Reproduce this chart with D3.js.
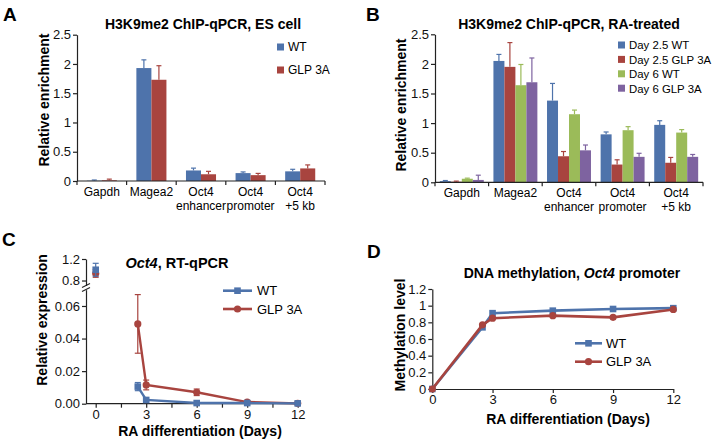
<!DOCTYPE html>
<html><head><meta charset="utf-8">
<script src="https://cdn.jsdelivr.net/npm/d3@7/dist/d3.min.js"></script>
<style>
html,body{margin:0;padding:0;background:#fff;}
svg{display:block;font-family:"Liberation Sans",Arial,Helvetica,sans-serif;}
</style></head>
<body>
<svg id="chart" width="714" height="439"></svg>
<script>
// ---------- DATA ----------
const categories = ["Gapdh", "Magea2", "Oct4\nenhancer", "Oct4\npromoter", "Oct4\n+5 kb"];
const barTicks = [0, 0.5, 1, 1.5, 2, 2.5];

// Panel A: ES cell
const esSeries = ["WT", "GLP 3A"];
const esWT = [0.005, 1.93, 0.18, 0.135, 0.165];
const esWTErr = [0.012, 0.14, 0.04, 0.02, 0.035];
const esGLP = [0.012, 1.73, 0.115, 0.10, 0.215];
const esGLPErr = [0.02, 0.24, 0.05, 0.03, 0.06];

// Panel B: RA-treated
const raSeries = ["Day 2.5 WT", "Day 2.5 GLP 3A", "Day 6 WT", "Day 6 GLP 3A"];
const d25WT = [0.02, 2.05, 1.38, 0.81, 0.97];
const d25WTErr = [0.01, 0.11, 0.29, 0.04, 0.07];
const d25GLP = [0.01, 1.95, 0.44, 0.30, 0.33];
const d25GLPErr = [0.01, 0.41, 0.08, 0.08, 0.09];
const d6WT = [0.06, 1.64, 1.15, 0.88, 0.84];
const d6WTErr = [0.01, 0.35, 0.07, 0.06, 0.05];
const d6GLP = [0.04, 1.69, 0.54, 0.43, 0.43];
const d6GLPErr = [0.08, 0.41, 0.09, 0.06, 0.04];

// Panel C: Oct4 RT-qPCR
const days = [0, 2.5, 3, 6, 9, 12];
const rtWT = [1.0, 0.0105, 0.0023, 0.0004, 0.0004, 0.0002];
const rtWTErr = [0.12, 0.0025, 0.0004, 0.0002, 0.0002, 0];
const rtGLP = [0.93, 0.049, 0.0115, 0.007, 0.001, 0.0002];
const rtGLPErr = [0.07, 0.018, 0.003, 0.002, 0.0006, 0];
const rtLowTicks = [0, 0.02, 0.04, 0.06];
const rtHighTicks = [0.8, 1.2];
const dayTicks = [0, 1.5, 3, 4.5, 6, 7.5, 9, 10.5, 12];
const dayLabels = [0, 3, 6, 9, 12];

// Panel D: DNA methylation
const methWT = [0, 0.74, 0.91, 0.94, 0.96, 0.97];
const methGLP = [0, 0.77, 0.85, 0.88, 0.86, 0.955];
const methTicks = [0, 0.2, 0.4, 0.6, 0.8, 1, 1.2];
const methTickLabels = ["0", "0.2", "0.4", "0.6", "0.8", "1", "1.2"];

// ---------- STYLE ----------
const BLUE = "#4e73ab", RED = "#a8443f", GREEN = "#9bbb59", PURPLE = "#7e63a0";
const AXIS = "#222";
const TICKFONT = "13px";
const svg = d3.select("#chart");
svg.append("rect").attr("width", 714).attr("height", 439).attr("fill", "#fff");

function styleAxis(g, fs) {
  g.selectAll("path.domain").attr("stroke", AXIS).attr("stroke-width", 1.2);
  g.selectAll(".tick line").attr("stroke", AXIS).attr("stroke-width", 1.2);
  g.selectAll(".tick text").attr("fill", "#111").style("font-size", fs || TICKFONT)
    .style("font-family", "'Liberation Sans',Arial,sans-serif");
}

function panelLetter(t, x, y) {
  svg.append("text").attr("x", x).attr("y", y).text(t)
    .style("font-size", "19px").style("font-weight", "bold");
}
function ylabel(t, x, y) {
  svg.append("text").attr("transform", `translate(${x},${y}) rotate(-90)`)
    .attr("text-anchor", "middle").text(t)
    .style("font-size", "14px").style("font-weight", "bold");
}

// ---------- BAR PANELS ----------
function barPanel(o) {
  const y = d3.scaleLinear().domain([0, 2.5]).range([o.y0, o.yTop]);
  const x = d3.scaleBand().domain(categories).range([o.x0, o.x1]);
  const inner = d3.scaleBand().domain(o.series.map((s, i) => i))
    .range([x.bandwidth() * o.pad, x.bandwidth() * (1 - o.pad)]);
  const ga = svg.append("g").attr("transform", `translate(${o.x0},0)`)
    .call(d3.axisLeft(y).tickValues(barTicks).tickFormat(d => String(d)).tickSize(4).tickSizeOuter(0).tickPadding(2));
  styleAxis(ga);
  // bars
  o.series.forEach((s, i) => {
    const g = svg.append("g");
    categories.forEach((c, j) => {
      const v = o.values[i][j], e = o.errs[i][j];
      const bx = x(c) + inner(i);
      g.append("rect").attr("x", bx).attr("y", y(v)).attr("width", inner.bandwidth())
        .attr("height", y(0) - y(v)).attr("fill", o.colors[i]);
      const cx = bx + inner.bandwidth() / 2;
      g.append("line").attr("x1", cx).attr("x2", cx).attr("y1", y(v)).attr("y2", y(v + e))
        .attr("stroke", o.colors[i]).attr("stroke-width", 1.2);
      g.append("line").attr("x1", cx - 2.5).attr("x2", cx + 2.5).attr("y1", y(v + e)).attr("y2", y(v + e))
        .attr("stroke", o.colors[i]).attr("stroke-width", 1.2);
    });
  });
  // x axis
  svg.append("line").attr("x1", o.x0).attr("x2", o.x1).attr("y1", y(0)).attr("y2", y(0))
    .attr("stroke", AXIS).attr("stroke-width", 1.2);
  const edges = categories.map(c => x(c)).concat([x.range()[1]]);
  edges.forEach(ex => svg.append("line").attr("x1", ex).attr("x2", ex)
    .attr("y1", y(0)).attr("y2", y(0) + 4).attr("stroke", AXIS).attr("stroke-width", 1.2));
  categories.forEach(c => {
    const t = svg.append("text").attr("text-anchor", "middle").style("font-size", "12px");
    c.split("\n").forEach((ln, k) => t.append("tspan").attr("x", x(c) + x.bandwidth() / 2)
      .attr("y", o.y0 + 15 + k * 14).text(ln));
  });
  // title
  svg.append("text").attr("x", o.titleX).attr("y", o.titleY).attr("text-anchor", "middle")
    .text(o.title).style("font-size", "14px").style("font-weight", "bold");
  // legend
  o.series.forEach((s, i) => {
    svg.append("rect").attr("x", o.legX).attr("y", o.legY + i * o.legDy - 3.5)
      .attr("width", 7).attr("height", 7).attr("fill", o.colors[i]);
    svg.append("text").attr("x", o.legX + 11).attr("y", o.legY + i * o.legDy + 4.3)
      .text(s).style("font-size", o.legFont);
  });
}

barPanel({
  x0: 77, x1: 325, y0: 181, yTop: 34.7, pad: 0.197,
  series: esSeries, values: [esWT, esGLP], errs: [esWTErr, esGLPErr], colors: [BLUE, RED],
  title: "H3K9me2 ChIP-qPCR, ES cell", titleX: 203, titleY: 29,
  legX: 277, legY: 47, legDy: 23, legFont: "12px"
});
barPanel({
  x0: 435, x1: 703, y0: 182.3, yTop: 34.3, pad: 0.09,
  series: raSeries, values: [d25WT, d25GLP, d6WT, d6GLP],
  errs: [d25WTErr, d25GLPErr, d6WTErr, d6GLPErr], colors: [BLUE, RED, GREEN, PURPLE],
  title: "H3K9me2 ChIP-qPCR, RA-treated", titleX: 569, titleY: 29,
  legX: 618, legY: 45, legDy: 14.4, legFont: "11.4px"
});
panelLetter("A", 3, 21);
panelLetter("B", 366, 21);
ylabel("Relative enrichment", 49, 100);
ylabel("Relative enrichment", 406, 105);

function drawMarker(type, cx, cy, color) {
  if (type === "square") {
    svg.append("rect").attr("x", cx - 3.3).attr("y", cy - 3.3).attr("width", 6.6).attr("height", 6.6).attr("fill", color);
  } else {
    svg.append("circle").attr("cx", cx).attr("cy", cy).attr("r", 3.6).attr("fill", color);
  }
}
function legendLine(xa, xb, yy, s, tx) {
  svg.append("line").attr("x1", xa).attr("x2", xb).attr("y1", yy).attr("y2", yy)
    .attr("stroke", s.color).attr("stroke-width", 2.6);
  drawMarker(s.marker, (xa + xb) / 2, yy, s.color);
  svg.append("text").attr("x", tx).attr("y", yy + 4.5).text(s.name).style("font-size", "13px");
}

// ---------- PANEL C ----------
(function () {
  const axX = 86;
  const x = d3.scaleLinear().domain([0, 12]).range([95.7, 297.7]);
  const yLow = d3.scaleLinear().domain([0, 0.07]).range([403.7, 289.7]);
  const yHigh = d3.scaleLinear().domain([0.7, 1.2]).range([285.9, 259]);
  const gl = svg.append("g").attr("transform", `translate(${axX},0)`)
    .call(d3.axisLeft(yLow).tickValues(rtLowTicks).tickFormat(d3.format(".2f")).tickSize(4).tickSizeOuter(0).tickPadding(2));
  styleAxis(gl);
  const gh = svg.append("g").attr("transform", `translate(${axX},0)`)
    .call(d3.axisLeft(yHigh).tickValues(rtHighTicks).tickFormat(d3.format(".1f")).tickSize(4).tickSizeOuter(0).tickPadding(2));
  styleAxis(gh);
  // break marks
  svg.append("rect").attr("x", axX - 2).attr("y", 286).attr("width", 4).attr("height", 3.5).attr("fill", "#fff");
  [285.5, 289.5].forEach(yy => svg.append("line").attr("x1", axX - 4).attr("x2", axX + 4)
    .attr("y1", yy + 2).attr("y2", yy - 2).attr("stroke", AXIS).attr("stroke-width", 1.1));
  // x axis
  const gx = svg.append("g").attr("transform", `translate(0,${yLow(0)})`)
    .call(d3.axisBottom(x).tickValues(dayTicks).tickFormat(d => dayLabels.includes(d) ? d : "").tickSize(4).tickSizeOuter(0).tickPadding(2));
  gx.select("path.domain").remove();
  styleAxis(gx);
  svg.append("line").attr("x1", axX).attr("x2", x(12)).attr("y1", yLow(0)).attr("y2", yLow(0))
    .attr("stroke", AXIS).attr("stroke-width", 1.2);

  const series = [
    { name: "WT", v: rtWT, e: rtWTErr, color: BLUE, marker: "square" },
    { name: "GLP 3A", v: rtGLP, e: rtGLPErr, color: RED, marker: "circle" }
  ];
  const yOf = (i, v) => i === 0 ? yHigh(v) : yLow(v);
  const line = d3.line().x(d => x(d[0])).y(d => yLow(d[1]));
  [series[1], series[0]].forEach(s => {
    const pts = days.map((d, i) => [d, s.v[i]]).slice(1);
    svg.append("path").datum(pts).attr("d", line).attr("fill", "none")
      .attr("stroke", s.color).attr("stroke-width", 2.4);
    days.forEach((d, i) => {
      const e = s.e[i];
      if (e > 0) {
        const cx = x(d), y1 = yOf(i, s.v[i] - e), y2 = yOf(i, s.v[i] + e);
        svg.append("line").attr("x1", cx).attr("x2", cx).attr("y1", y1).attr("y2", y2)
          .attr("stroke", s.color).attr("stroke-width", 1.2);
        [y1, y2].forEach(yy => svg.append("line").attr("x1", cx - 3).attr("x2", cx + 3)
          .attr("y1", yy).attr("y2", yy).attr("stroke", s.color).attr("stroke-width", 1.2));
      }
      drawMarker(s.marker, x(d), yOf(i, s.v[i]), s.color);
    });
  });
  const t = svg.append("text").attr("x", 177).attr("y", 268).attr("text-anchor", "middle")
    .style("font-size", "14.5px").style("font-weight", "bold");
  t.append("tspan").text("Oct4").style("font-style", "italic");
  t.append("tspan").text(", RT-qPCR");
  series.forEach((s, i) => legendLine(223, 252, [290.7, 309][i], s, 257));
  svg.append("text").attr("x", 200).attr("y", 436).attr("text-anchor", "middle")
    .text("RA differentiation (Days)").style("font-size", "14px").style("font-weight", "bold");
  ylabel("Relative expression", 47, 320);
  panelLetter("C", 2, 246);
})();

// ---------- PANEL D ----------
(function () {
  const x = d3.scaleLinear().domain([0, 12]).range([432.3, 673.3]);
  const y = d3.scaleLinear().domain([0, 1.2]).range([389, 289]);
  const gy = svg.append("g").attr("transform", `translate(${x(0)},0)`)
    .call(d3.axisLeft(y).tickValues(methTicks).tickFormat((d, i) => methTickLabels[i]).tickSize(4).tickSizeOuter(0).tickPadding(2));
  styleAxis(gy);
  const gx = svg.append("g").attr("transform", `translate(0,${y(0)})`)
    .call(d3.axisBottom(x).tickValues(dayLabels).tickSize(4).tickSizeOuter(0).tickPadding(2));
  styleAxis(gx);
  const series = [
    { name: "WT", v: methWT, color: BLUE, marker: "square" },
    { name: "GLP 3A", v: methGLP, color: RED, marker: "circle" }
  ];
  const line = d3.line().x(d => x(d[0])).y(d => y(d[1]));
  series.forEach(s => {
    const pts = days.map((d, i) => [d, s.v[i]]);
    svg.append("path").datum(pts).attr("d", line).attr("fill", "none")
      .attr("stroke", s.color).attr("stroke-width", 2.6);
    pts.forEach(p => drawMarker(s.marker, x(p[0]), y(p[1]), s.color));
  });
  const t = svg.append("text").attr("x", 572).attr("y", 278).attr("text-anchor", "middle")
    .style("font-size", "14px").style("font-weight", "bold");
  t.append("tspan").text("DNA methylation, ");
  t.append("tspan").text("Oct4").style("font-style", "italic");
  t.append("tspan").text(" promoter");
  series.forEach((s, i) => legendLine(575, 602, [343.3, 361.7][i], s, 606));
  svg.append("text").attr("x", 568).attr("y", 424).attr("text-anchor", "middle")
    .text("RA differentiation (Days)").style("font-size", "14px").style("font-weight", "bold");
  ylabel("Methylation level", 405, 335);
  panelLetter("D", 367, 258);
})();
</script>
</body></html>
